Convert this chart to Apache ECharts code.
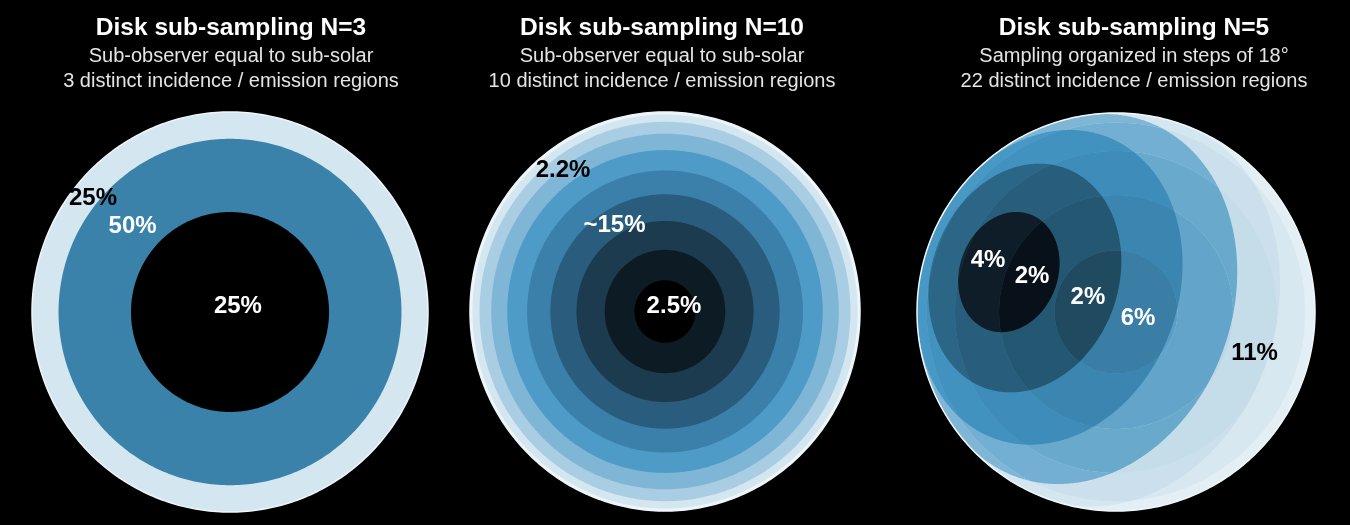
<!DOCTYPE html>
<html>
<head>
<meta charset="utf-8">
<script src="https://cdn.jsdelivr.net/npm/echarts@6/dist/echarts.min.js"></script>
<style>
html,body{margin:0;padding:0;background:#000;}
#chart{width:1350px;height:525px;}
</style>
</head>
<body>
<div id="chart"></div>
<script>
// ---------------- data ----------------
const panelTitles = ['Disk sub-sampling N=3', 'Disk sub-sampling N=10', 'Disk sub-sampling N=5'];
const panelSubLine1 = ['Sub-observer equal to sub-solar', 'Sub-observer equal to sub-solar', 'Sampling organized in steps of 18°'];
const panelSubLine2 = ['3 distinct incidence / emission regions', '10 distinct incidence / emission regions', '22 distinct incidence / emission regions'];

// N=3 : ring boundaries (degrees of incidence = emission), inner -> outer
const ringBoundsN3 = [30, 60, 90];
const ringColorsN3 = ['#000000', '#3a82aa', '#d4e6f0'];
const ringLabelsN3 = ['25%', '50%', '25%'];

// N=10 : ring boundaries, inner -> outer
const ringBoundsN10 = [9, 18, 27, 36, 45, 54, 63, 72, 81, 90];
const ringColorsN10 = ['#000000', '#0d1b25', '#1c3b4f', '#2a5d7d', '#3a80aa', '#4f9bc7', '#7fb5d5', '#a9cde2', '#d4e6f0', '#eef5f9'];
const ringLabelsN10 = ['2.5%', '~15%', '2.2%'];

// N=5 : incidence / emission boundaries in steps of 18 degrees
const stepBoundsN5 = [18, 36, 54, 72, 90];
const subSolarXY = [-0.566, 0.211];   // projected sub-solar point (disk radius = 1)
// rows: incidence bin 0-18, 18-36, 36-54, 54-72, 72-90, night ; cols: emission bin 0-18 ... 72-90
const cellColorsN5 = [
  ['#050b10', '#08111a', '#0e1d27', '#122432', '#16293a'],
  ['#1f4a60', '#245872', '#285d7b', '#2c6686', '#336f93'],
  ['#3a7ea6', '#3b86b1', '#3e8cb9', '#4292c0', '#4898c5'],
  ['#5a9ec6', '#62a4ca', '#68a9cc', '#72afd2', '#7fb6d6'],
  ['#b8d4e5', '#bdd7e7', '#c5dce9', '#cbe0ec', '#d4e6f0'],
  ['#cfe2ed', '#d2e4ef', '#d6e7f0', '#d8e8f1', '#e4eff5']
];
const cellLabelsN5 = ['4%', '2%', '2%', '6%', '11%'];

// ---------------- layout ----------------
const FONT = "'Liberation Sans', Helvetica, Arial, sans-serif";
const diskBoxes = [
  {left: 32, top: 112, width: 396, height: 400},
  {left: 470, top: 112, width: 390, height: 399},
  {left: 917, top: 113, width: 398, height: 398}
];
const textCenters = [231, 662, 1134];
const labelAnchors = [
  [[-0.692, 0.570], [-0.492, 0.430], [0.040, 0.030]],
  [[-0.523, 0.709], [-0.259, 0.434], [0.046, 0.028]],
  [[-0.643, 0.261], [-0.422, 0.181], [-0.141, 0.075], [0.111, -0.030], [0.696, -0.206]]
];
const labelColors = [
  ['#000000', '#ffffff', '#ffffff'],
  ['#000000', '#ffffff', '#ffffff'],
  ['#ffffff', '#ffffff', '#ffffff', '#ffffff', '#000000']
];
const labelOrder = [[2, 1, 0], [2, 1, 0], [0, 1, 2, 3, 4]];
const RIM = '#eef6fa';

// ---------------- geometry helpers ----------------
const DEG = Math.PI / 180;
function circlePoly(r, n) {
  const pts = [];
  for (let k = 0; k < n; k++) {
    const a = 2 * Math.PI * k / n;
    pts.push([r * Math.cos(a), r * Math.sin(a)]);
  }
  return pts;
}
function signedArea(p) {
  let s = 0;
  for (let i = 0; i < p.length; i++) {
    const a = p[i], b = p[(i + 1) % p.length];
    s += a[0] * b[1] - b[0] * a[1];
  }
  return s / 2;
}
function side(A, B, P) { return (B[0] - A[0]) * (P[1] - A[1]) - (B[1] - A[1]) * (P[0] - A[0]); }
function inter(P1, P2, A, B) {
  const d1 = side(A, B, P1), d2 = side(A, B, P2);
  const t = d1 / (d1 - d2);
  return [P1[0] + t * (P2[0] - P1[0]), P1[1] + t * (P2[1] - P1[1])];
}
function clipPoly(subject, clip) {
  let out = subject;
  for (let i = 0; i < clip.length && out.length; i++) {
    const A = clip[i], B = clip[(i + 1) % clip.length];
    const inp = out; out = [];
    for (let j = 0; j < inp.length; j++) {
      const cur = inp[j], prev = inp[(j + inp.length - 1) % inp.length];
      const ic = side(A, B, cur) >= 0, ip = side(A, B, prev) >= 0;
      if (ic) { if (!ip) out.push(inter(prev, cur, A, B)); out.push(cur); }
      else if (ip) out.push(inter(prev, cur, A, B));
    }
  }
  return out;
}
function norm(v) { const l = Math.hypot(v[0], v[1], v[2]); return [v[0] / l, v[1] / l, v[2] / l]; }
function cross(a, b) { return [a[1] * b[2] - a[2] * b[1], a[2] * b[0] - a[0] * b[2], a[0] * b[1] - a[1] * b[0]]; }

// visible part of the region with incidence < alpha (orthographic view of the sphere)
const unitDisk = circlePoly(1, 360);
const P = [subSolarXY[0], subSolarXY[1], Math.sqrt(1 - subSolarXY[0] ** 2 - subSolarXY[1] ** 2)];
const U = norm(cross(P, [0, 0, 1]));
const V = cross(P, U);
function incidenceRegion(alphaDeg) {
  const ca = Math.cos(alphaDeg * DEG), sa = Math.sin(alphaDeg * DEG);
  const pts = [];
  for (let k = 0; k < 720; k++) {
    const t = k * 0.5 * DEG;
    const q = [0, 1, 2].map(i => ca * P[i] + sa * (Math.cos(t) * U[i] + Math.sin(t) * V[i]));
    if (q[2] >= 0) pts.push([q[0], q[1]]);
    else { const l = Math.hypot(q[0], q[1]); pts.push([q[0] / l, q[1] / l]); }
  }
  if (signedArea(pts) < 0) pts.reverse();
  return pts;
}

// cells of the N=5 disk: region (incidence < a_i) ∩ (emission < e_j), painted in decreasing i+j
const emCircles = stepBoundsN5.map(b => circlePoly(Math.sin(b * DEG), 240));
const incRegions = stepBoundsN5.map(b => incidenceRegion(b)).concat([unitDisk]);
const cellsN5 = [];
for (let i = 0; i < incRegions.length; i++) {
  for (let e = 0; e < stepBoundsN5.length; e++) {
    let poly;
    if (e === stepBoundsN5.length - 1) poly = incRegions[i];
    else if (i === incRegions.length - 1) poly = circlePoly(Math.sin(stepBoundsN5[e] * DEG), 360);
    else poly = clipPoly(incRegions[i], emCircles[e]);
    if (poly.length > 2) cellsN5.push({i, e, poly});
  }
}
cellsN5.sort((a, b) => (b.i + b.e) - (a.i + a.e));

// ---------------- series ----------------
function toPixels(api, poly) { return poly.map(p => api.coord(p)); }

function ringSeries(gridIdx, bounds, colors) {
  const data = [];
  for (let k = bounds.length - 1; k >= 0; k--) data.push([0, 0, k]);
  return {
    type: 'custom', coordinateSystem: 'cartesian2d', xAxisIndex: gridIdx, yAxisIndex: gridIdx,
    clip: false, silent: true, data,
    renderItem(params, api) {
      const k = api.value(2);
      const r = Math.sin(bounds[k] * DEG);
      const outer = k === bounds.length - 1;
      return {
        type: 'polygon', shape: {points: toPixels(api, circlePoly(r, 360))},
        style: {fill: colors[k], stroke: outer ? RIM : null, lineWidth: outer ? 1.5 : 0}
      };
    }
  };
}

function cellSeries(gridIdx) {
  const data = cellsN5.map((c, idx) => [0, 0, idx]);
  data.push([0, 0, -1]);
  return {
    type: 'custom', coordinateSystem: 'cartesian2d', xAxisIndex: gridIdx, yAxisIndex: gridIdx,
    clip: false, silent: true, data,
    renderItem(params, api) {
      const idx = api.value(2);
      if (idx < 0) {
        return {type: 'polygon', shape: {points: toPixels(api, unitDisk)}, style: {fill: null, stroke: RIM, lineWidth: 1.5}};
      }
      const c = cellsN5[idx];
      return {type: 'polygon', shape: {points: toPixels(api, c.poly)}, style: {fill: cellColorsN5[c.i][c.e], stroke: null}};
    }
  };
}

function labelSeries(gridIdx, texts) {
  const data = labelOrder[gridIdx].map((ti, k) => [labelAnchors[gridIdx][k][0], labelAnchors[gridIdx][k][1], k]);
  return {
    type: 'custom', coordinateSystem: 'cartesian2d', xAxisIndex: gridIdx, yAxisIndex: gridIdx,
    clip: false, silent: true, z: 10, data,
    renderItem(params, api) {
      const k = api.value(2);
      const pt = api.coord([api.value(0), api.value(1)]);
      return {
        type: 'text', x: pt[0], y: pt[1],
        style: {text: texts[labelOrder[gridIdx][k]], fill: labelColors[gridIdx][k], font: 'bold 24px ' + FONT,
                align: 'center', verticalAlign: 'middle'}
      };
    }
  };
}

const grids = diskBoxes.map(b => ({left: b.left, top: b.top, width: b.width, height: b.height, containLabel: false}));
const xAxes = diskBoxes.map((b, i) => ({type: 'value', gridIndex: i, min: -1, max: 1, show: false}));
const yAxes = diskBoxes.map((b, i) => ({type: 'value', gridIndex: i, min: -1, max: 1, show: false}));

const texts = [];
for (let i = 0; i < 3; i++) {
  texts.push({type: 'text', x: textCenters[i], y: 28, style: {text: panelTitles[i], fill: '#ffffff', font: 'bold 24.5px ' + FONT, textAlign: 'center', textVerticalAlign: 'middle'}});
  texts.push({type: 'text', x: textCenters[i], y: 56, style: {text: panelSubLine1[i], fill: '#e4e4e4', font: '20px ' + FONT, textAlign: 'center', textVerticalAlign: 'middle'}});
  texts.push({type: 'text', x: textCenters[i], y: 81, style: {text: panelSubLine2[i], fill: '#e4e4e4', font: '20px ' + FONT, textAlign: 'center', textVerticalAlign: 'middle'}});
}

const chart = echarts.init(document.getElementById('chart'), null, {renderer: 'canvas'});
chart.setOption({
  backgroundColor: '#000',
  animation: false,
  grid: grids, xAxis: xAxes, yAxis: yAxes,
  graphic: texts,
  series: [
    ringSeries(0, ringBoundsN3, ringColorsN3),
    ringSeries(1, ringBoundsN10, ringColorsN10),
    cellSeries(2),
    labelSeries(0, ringLabelsN3),
    labelSeries(1, ringLabelsN10),
    labelSeries(2, cellLabelsN5)
  ]
});
</script>
</body>
</html>
